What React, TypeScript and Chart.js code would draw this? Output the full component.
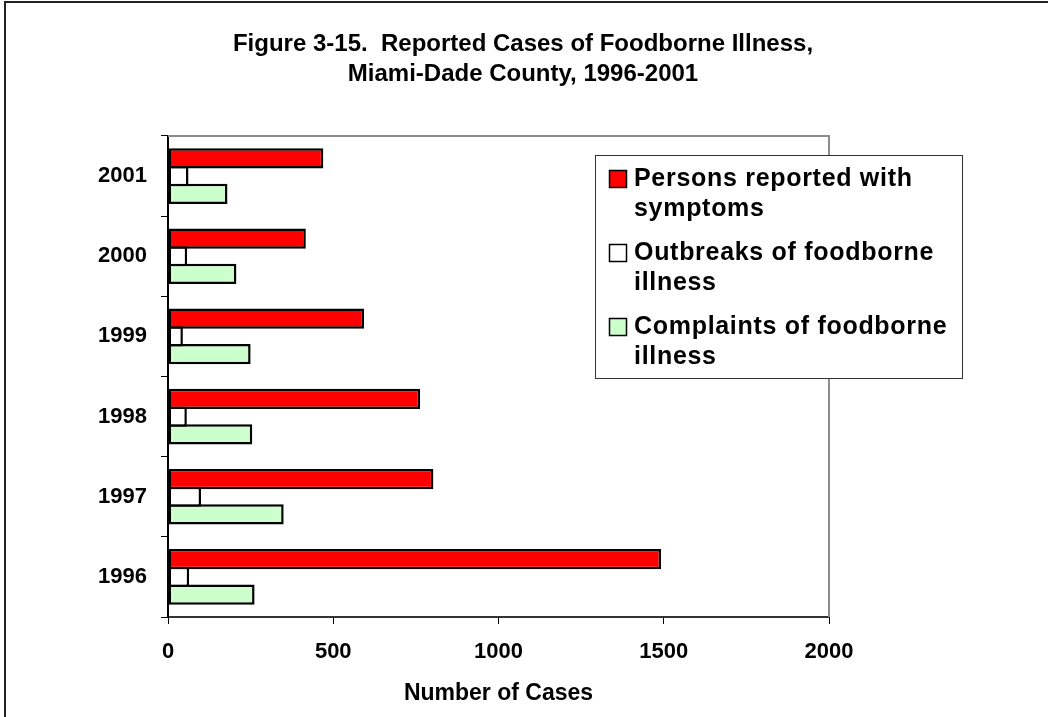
import React, { useEffect, useRef } from 'react';
import { Chart, registerables } from 'chart.js';

Chart.register(...registerables);

const years = ['2001', '2000', '1999', '1998', '1997', '1996'];
const personsWithSymptoms = [470, 417, 593, 763, 803, 1492];
const outbreaks = [62, 58, 45, 57, 100, 64];
const complaints = [180, 207, 250, 255, 350, 262];
const xTickValues = [0, 500, 1000, 1500, 2000];
const titleLines = ['Figure 3-15.  Reported Cases of Foodborne Illness,', 'Miami-Dade County, 1996-2001'];
const seriesLabels = [
  ['Persons reported with', 'symptoms'],
  ['Outbreaks of foodborne', 'illness'],
  ['Complaints of foodborne', 'illness'],
];
const seriesColors = ['#ff0000', '#ffffff', '#ccffcc'];
const xTitle = 'Number of Cases';

const FONT = '"Liberation Sans", Arial, Helvetica, sans-serif';

const decor = {
  id: 'decor',
  beforeDraw(chart: any) {
    const { ctx, width, height } = chart;
    ctx.save();
    ctx.fillStyle = '#ffffff';
    ctx.fillRect(0, 0, width, height);
    ctx.strokeStyle = '#222222';
    ctx.lineWidth = 2;
    ctx.beginPath();
    ctx.moveTo(4, 2);
    ctx.lineTo(width, 2);
    ctx.moveTo(5, 1);
    ctx.lineTo(5, height);
    ctx.stroke();
    ctx.restore();
  },
  afterDraw(chart: any) {
    const { ctx, chartArea } = chart;
    ctx.save();
    // plot area top and right borders
    ctx.strokeStyle = '#8c8c8c';
    ctx.lineWidth = 2;
    ctx.beginPath();
    ctx.moveTo(chartArea.left, chartArea.top);
    ctx.lineTo(chartArea.right, chartArea.top);
    ctx.lineTo(chartArea.right, chartArea.bottom);
    ctx.stroke();

    // title
    ctx.fillStyle = '#000000';
    ctx.font = `bold 24px ${FONT}`;
    ctx.textAlign = 'center';
    ctx.textBaseline = 'middle';
    ctx.fillText(titleLines[0], 523, 44);
    ctx.fillText(titleLines[1], 523, 74);

    // legend
    const lx = 595.5, ly = 155.5, lw = 367, lh = 223;
    ctx.fillStyle = '#ffffff';
    ctx.fillRect(lx, ly, lw, lh);
    ctx.strokeStyle = '#333333';
    ctx.lineWidth = 1;
    ctx.strokeRect(lx, ly, lw, lh);
    const itemY = [179, 253, 327];
    ctx.font = `bold 25px ${FONT}`;
    (ctx as any).letterSpacing = '0.7px';
    ctx.textAlign = 'left';
    chart.data.datasets.forEach((ds: any, i: number) => {
      const y = itemY[i];
      ctx.fillStyle = ds.backgroundColor;
      ctx.fillRect(609.5, y - 8.5, 17, 17);
      ctx.strokeStyle = '#000000';
      ctx.lineWidth = 1.5;
      ctx.strokeRect(609.5, y - 8.5, 17, 17);
      ctx.fillStyle = '#000000';
      const lines = seriesLabels[i];
      lines.forEach((t, j) => ctx.fillText(t, 634, y + j * 30));
    });
    ctx.restore();
  },
};

export default function App() {
  const ref = useRef<HTMLCanvasElement | null>(null);
  useEffect(() => {
    document.body.style.margin = '0';
    const canvas = ref.current;
    if (!canvas) return;
    const common = {
      borderColor: '#000000',
      borderWidth: 2.5,
      borderSkipped: false,
      categoryPercentage: 0.6625,
      barPercentage: 1.141,
    };
    const chart = new Chart(canvas, {
      type: 'bar',
      data: {
        labels: years,
        datasets: [
          { label: seriesLabels[0].join(' '), data: personsWithSymptoms, backgroundColor: seriesColors[0], ...common },
          { label: seriesLabels[1].join(' '), data: outbreaks, backgroundColor: seriesColors[1], ...common },
          { label: seriesLabels[2].join(' '), data: complaints, backgroundColor: seriesColors[2], ...common },
        ],
      } as any,
      options: {
        indexAxis: 'y',
        responsive: false,
        animation: false,
        devicePixelRatio: 1,
        layout: { padding: { top: 136, right: 219, left: 0, bottom: 0 } },
        plugins: {
          legend: { display: false },
          title: { display: false },
          tooltip: { enabled: false },
        },
        scales: {
          x: {
            type: 'linear',
            position: 'bottom',
            min: 0,
            max: 2000,
            afterBuildTicks: (scale: any) => {
              scale.ticks = xTickValues.map((v) => ({ value: v }));
            },
            afterFit: (scale: any) => {
              scale.height = 100;
            },
            grid: { drawOnChartArea: false, drawTicks: true, tickLength: 7, color: '#000000', lineWidth: 1 },
            border: { display: true, color: '#333333', width: 2 },
            ticks: {
              color: '#000000',
              padding: 15,
              font: { family: FONT, size: 22, weight: 'bold' },
              callback: (v: any) => String(v),
            },
            title: {
              display: true,
              text: xTitle,
              color: '#000000',
              font: { family: FONT, size: 23, weight: 'bold' },
              padding: { top: 0, bottom: 10 },
            },
          },
          y: {
            type: 'category',
            afterFit: (scale: any) => {
              scale.width = 168;
            },
            grid: { drawOnChartArea: false, drawTicks: true, tickLength: 7, color: '#000000', offset: true, lineWidth: 1 },
            border: { display: true, color: '#000000', width: 2 },
            ticks: {
              color: '#000000',
              padding: 14,
              font: { family: FONT, size: 22, weight: 'bold' },
            },
          },
        },
      } as any,
      plugins: [decor],
    });
    return () => chart.destroy();
  }, []);
  return (
    <div style={{ position: 'fixed', left: 0, top: 0, width: 1048, height: 717, background: '#fff' }}>
      <canvas ref={ref} width={1048} height={717} style={{ width: 1048, height: 717, display: 'block' }} />
    </div>
  );
}
